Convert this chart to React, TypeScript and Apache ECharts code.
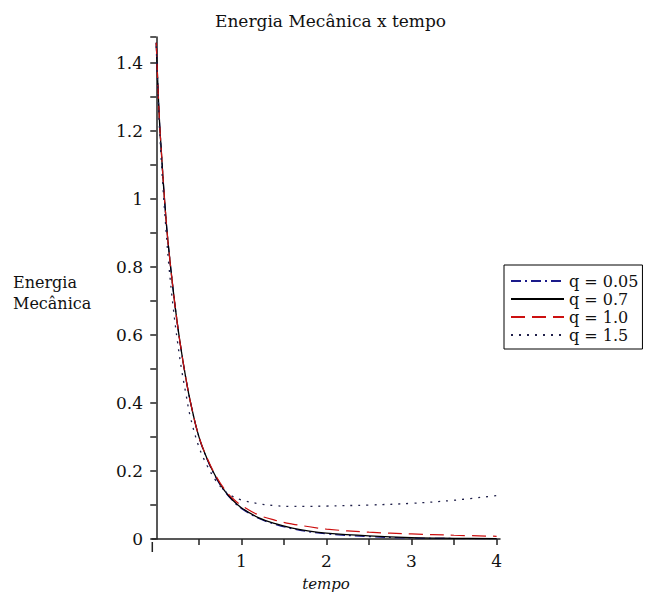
import React, { useEffect, useRef } from "react";
import * as echarts from "echarts";

const tempo = [0, 0.02, 0.04, 0.06, 0.08, 0.1, 0.125, 0.15, 0.2, 0.25, 0.3, 0.35, 0.4, 0.5, 0.6, 0.7, 0.8, 0.9, 1.0, 1.2, 1.4, 1.6, 1.8, 2.0, 2.5, 3.0, 3.5, 4.0];

const q005 = [1.46, 1.33, 1.22, 1.14, 1.06, 0.99, 0.91, 0.845, 0.73, 0.63, 0.545, 0.47, 0.405, 0.302, 0.233, 0.181, 0.141, 0.112, 0.09, 0.061, 0.043, 0.03, 0.021, 0.015, 0.007, 0.003, 0.0015, 0.0008];
const q07 = [1.46, 1.33, 1.22, 1.14, 1.06, 0.99, 0.91, 0.845, 0.73, 0.63, 0.545, 0.47, 0.405, 0.302, 0.235, 0.183, 0.143, 0.114, 0.092, 0.063, 0.045, 0.032, 0.023, 0.017, 0.009, 0.004, 0.002, 0.001];
const q10 = [1.46, 1.33, 1.22, 1.14, 1.06, 0.99, 0.91, 0.845, 0.73, 0.63, 0.545, 0.47, 0.405, 0.302, 0.237, 0.186, 0.147, 0.119, 0.099, 0.071, 0.055, 0.044, 0.036, 0.029, 0.02, 0.015, 0.011, 0.008];
const q15 = [1.45, 1.31, 1.2, 1.11, 1.03, 0.96, 0.875, 0.8, 0.68, 0.58, 0.495, 0.425, 0.36, 0.272, 0.215, 0.172, 0.143, 0.125, 0.115, 0.104, 0.098, 0.096, 0.096, 0.097, 0.1, 0.105, 0.114, 0.128];

const seriesNames = ["q = 0.05", "q = 0.7", "q = 1.0", "q = 1.5"];
const xTickValues = [0.5, 1, 1.5, 2, 2.5, 3, 3.5, 4];
const xLabelValues = [1, 2, 3, 4];

const FONT = "DejaVu Serif";

export default function App() {
  const ref = useRef<HTMLDivElement>(null);
  useEffect(() => {
    if (!ref.current) return;
    const chart = echarts.init(ref.current, undefined, { renderer: "svg" });
    const pairs = (ys: number[]) => tempo.map((t, i) => [t, ys[i]]);
    const mk = (name: string, ys: number[], color: string, type: any, width: number) => ({
      name,
      type: "line",
      data: pairs(ys),
      symbol: "none",
      showSymbol: false,
      smooth: 0.4,
      lineStyle: { color, type, width },
      itemStyle: { color },
    });
    chart.setOption({
      animation: false,
      backgroundColor: "#fff",
      title: {
        text: "Energia Mecânica x tempo",
        left: 215,
        top: 12,
        padding: 0,
        textStyle: { fontFamily: FONT, fontSize: 17, fontWeight: "normal", color: "#111" },
      },
      legend: {
        orient: "vertical",
        left: 504,
        top: 265,
        data: seriesNames,
        borderColor: "#000",
        borderWidth: 1,
        padding: [7, 4, 5, 6],
        itemWidth: 53,
        itemHeight: 14,
        itemGap: 0,
        itemStyle: { opacity: 0, borderWidth: 0 },
        textStyle: { fontFamily: FONT, fontSize: 16, color: "#111", lineHeight: 18 },
      },
      grid: { left: 152, top: 37, width: 348, height: 505 },
      xAxis: {
        type: "value",
        min: -0.05,
        max: 4.04,
        name: "tempo",
        nameLocation: "middle",
        nameGap: 37,
        nameTextStyle: { fontFamily: FONT, fontSize: 15, fontStyle: "italic", color: "#111" },
        axisLine: { lineStyle: { color: "#222", width: 1.5 } },
        axisTick: { show: true, length: 6, customValues: xTickValues, lineStyle: { color: "#222", width: 1.5 } },
        axisLabel: { customValues: xLabelValues, fontFamily: FONT, fontSize: 17, color: "#111", margin: 13 },
        splitLine: { show: false },
      },
      yAxis: {
        type: "value",
        min: 0,
        max: 1.477,
        interval: 0.2,
        axisLine: { show: true, lineStyle: { color: "#222", width: 1.5 } },
        axisTick: { show: true, length: 6, lineStyle: { color: "#222", width: 1.5 } },
        minorTick: { show: true, splitNumber: 2, length: 6, lineStyle: { color: "#222", width: 1.5 } },
        axisLabel: { fontFamily: FONT, fontSize: 17, color: "#111", margin: 9, showMaxLabel: false },
        splitLine: { show: false },
      },
      graphic: [
        {
          type: "text",
          left: 13,
          top: 272,
          style: {
            text: "Energia\nMecânica",
            font: "16px 'DejaVu Serif'",
            fill: "#111",
            lineHeight: 21,
          },
        },
        {
          type: "line",
          shape: { x1: 152.3, y1: 542, x2: 152.3, y2: 552 },
          style: { stroke: "#222", lineWidth: 1.5 },
        },
      ],
      series: [
        mk(seriesNames[0], q005, "#1a1a8a", [10, 4, 2, 4], 1.2),
        mk(seriesNames[1], q07, "#000000", "solid", 1.3),
        mk(seriesNames[2], q10, "#cc1010", [14, 7], 1.2),
        mk(seriesNames[3], q15, "#20204a", [2, 6], 1.3),
      ],
    });
    return () => chart.dispose();
  }, []);
  return (
    <div
      ref={ref}
      style={{ position: "fixed", left: 0, top: 0, width: 645, height: 596, background: "#fff" }}
    />
  );
}
